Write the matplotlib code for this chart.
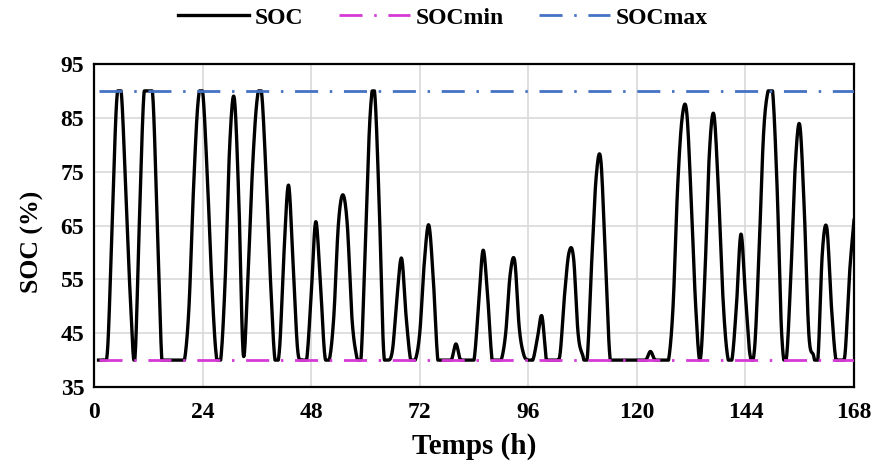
import numpy as np
import matplotlib
matplotlib.use('Agg')
from matplotlib import pyplot as plt

# hourly state of charge (%), hours 1..168, one row per day
hours = np.arange(1, 169)
soc = [40, 40, 42, 65, 88, 90, 72, 52, 40, 65, 89, 90, 89, 65, 40, 40, 40, 40, 40, 40, 50, 72, 88, 90,
       75, 55, 41, 40, 55, 80, 88.7, 70, 41, 55, 75, 88, 90, 75, 55, 40, 42, 60, 72.5, 58, 42, 40, 40, 52,
       65.7, 55, 41, 40, 48, 65, 70.7, 65, 48, 41, 40, 62, 85, 90, 70, 42, 40, 42, 52, 58.9, 48, 40, 40, 45,
       58, 65.1, 55, 40, 40, 40, 40, 43, 40, 40, 40, 40, 50, 60.4, 52, 40, 40, 40, 45, 56, 58.4, 46, 41, 40,
       40, 44, 48.2, 40, 40, 40, 41, 52, 60, 59, 45, 41, 40, 58, 74, 77.4, 60, 41, 40, 40, 40, 40, 40, 40,
       40, 40, 41.6, 40, 40, 40, 40, 50, 72, 85, 86.2, 70, 50, 40, 55, 78, 85.7, 72, 52, 41, 40, 50, 63.4, 52,
       41, 42, 60, 82, 90, 90, 72, 45, 40, 55, 76, 83.7, 68, 45, 41, 40, 60, 64.5, 50, 40, 40, 41, 56, 66]
soc_min = 40
soc_max = 90
xticks = np.arange(0, 169, 24)
yticks = np.arange(35, 96, 10)


def smooth(x, y, n=16):
    # excel-like "smoothed line" (catmull-rom bezier)
    x = np.asarray(x, float)
    y = np.asarray(y, float)
    xp = np.concatenate([[x[0]], x, [x[-1]]])
    yp = np.concatenate([[y[0]], y, [y[-1]]])
    t = np.linspace(0, 1, n)[:, None]
    p1x, p2x = x[:-1], x[1:]
    p1y, p2y = y[:-1], y[1:]
    c1x = p1x + (xp[2:-1] - xp[:-3]) / 6
    c1y = p1y + (yp[2:-1] - yp[:-3]) / 6
    c2x = p2x - (xp[3:] - xp[1:-2]) / 6
    c2y = p2y - (yp[3:] - yp[1:-2]) / 6
    bx = (1-t)**3*p1x + 3*(1-t)**2*t*c1x + 3*(1-t)*t**2*c2x + t**3*p2x
    by = (1-t)**3*p1y + 3*(1-t)**2*t*c1y + 3*(1-t)*t**2*c2y + t**3*p2y
    return bx.T.ravel(), by.T.ravel()


plt.rcParams['font.family'] = 'Liberation Serif'
plt.rcParams['font.weight'] = 'bold'

fig = plt.figure(figsize=(8.77, 4.65), dpi=100)
ax = fig.add_axes([0.1072, 0.1677, 0.8666, 0.6947])

sx, sy = smooth(hours, soc)
# the battery never leaves its window, so keep the smoothed curve inside it
sy = np.clip(sy, soc_min, soc_max)
ax.plot(sx, sy, color='black', lw=2.4, label='SOC', zorder=3)
ax.plot(hours, [soc_min]*len(hours), color='#d63ad6', lw=2.0,
        dashes=(8.3, 4.2, 0.9, 4.2), label='SOCmin', zorder=4)
ax.plot(hours, [soc_max]*len(hours), color='#4472c4', lw=2.0,
        dashes=(8.3, 4.2, 0.9, 4.2), label='SOCmax', zorder=4)

ax.set_xlim(0, 168)
ax.set_ylim(35, 95)
ax.set_xticks(xticks)
ax.set_yticks(yticks)
ax.grid(True, color='#d9d9d9', lw=1.2)
ax.set_axisbelow(True)
ax.tick_params(length=0, labelsize=17)
ax.tick_params(axis='x', pad=11)
ax.tick_params(axis='y', pad=7)
for s in ax.spines.values():
    s.set_linewidth(1.6)
    s.set_color('black')

ax.set_xlabel('Temps (h)', fontsize=21, fontweight='bold')
ax.set_ylabel('SOC (%)', fontsize=18.5, fontweight='bold')
ax.xaxis.set_label_coords(0.5, -0.14)
ax.yaxis.set_label_coords(-0.066, 0.45)
ax.legend(loc='center', bbox_to_anchor=(443/877, 1 - 18/465), bbox_transform=fig.transFigure,
          ncol=3, frameon=False, handlelength=3.0, columnspacing=1.5, handletextpad=0.25,
          prop={'weight': 'bold', 'size': 17})

plt.savefig('out.png', dpi=100)
plt.close()
